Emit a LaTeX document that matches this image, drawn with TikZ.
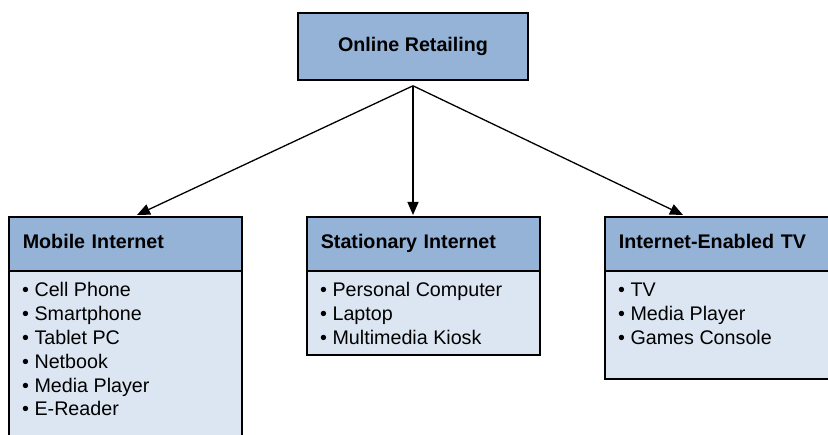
\documentclass[tikz,border=0pt]{standalone}
\usepackage{fontspec}
\setmainfont{Liberation Sans}
\usetikzlibrary{arrows.meta,calc}
\definecolor{hdrblue}{RGB}{149,179,215}
\definecolor{bodyblue}{RGB}{220,230,242}
\begin{document}
\begin{tikzpicture}[x=1pt,y=-1pt,
 box/.style={draw=black,line width=1.6pt,inner sep=0pt,anchor=north west},
 hdr/.style={box,fill=hdrblue,font=\fontsize{19.7}{24}\selectfont\bfseries,
   text width=205pt,align=left,inner xsep=14pt,minimum width=233pt,minimum height=54pt,
   text height=14pt,text depth=4pt},
 body/.style={box,fill=bodyblue,minimum width=233pt},
 item/.style={anchor=base west,inner sep=0pt,font=\fontsize{19.7}{24}\selectfont},
 arr/.style={line width=1.3pt,-{Triangle[length=13pt,width=11pt]}}]
\useasboundingbox (0,0) rectangle (828,435);
\clip (0,0) rectangle (828,435);
% top box
\node[hdr,anchor=center,text width=,align=center,inner xsep=0pt,minimum width=230pt,minimum height=67pt] (top) at (413,46.5) {Online Retailing};
% bodies
\node[body,minimum height=175pt] (mb) at (8,270) {};
\node[body,minimum height=84pt] (sb) at (306,270) {};
\node[body,minimum width=228pt,minimum height=108pt] (tb) at (604,270) {};
% headers
\node[hdr] (mh) at (8,216) {Mobile Internet};
\node[hdr] (sh) at (306,216) {Stationary Internet};
\node[hdr,minimum width=228pt,text width=200pt] (th) at (604,216) {Internet-Enabled TV};
% items
\foreach \t [count=\i] in {Cell Phone,Smartphone,Tablet PC,Netbook,Media Player,E-Reader}
  \node[item] (m\i) at ($(mb.north west)+(14,{26.5+23.9*(\i-1)})$) {• \t};
\foreach \t [count=\i] in {Personal Computer,Laptop,Multimedia Kiosk}
  \node[item] (s\i) at ($(sb.north west)+(14,{26.5+23.9*(\i-1)})$) {• \t};
\foreach \t [count=\i] in {TV,Media Player,Games Console}
  \node[item] (t\i) at ($(tb.north west)+(14,{26.5+23.9*(\i-1)})$) {• \t};
% connectors
\coordinate (apex) at ($(top.south)+(0,5)$);
\draw[arr] (apex) -- ($(mh.north west)+(129,-1)$);
\draw[arr] (apex) -- ($(sh.north west)+(107,-1)$);
\draw[arr] (apex) -- ($(th.north west)+(79,-1)$);
\end{tikzpicture}
\end{document}
